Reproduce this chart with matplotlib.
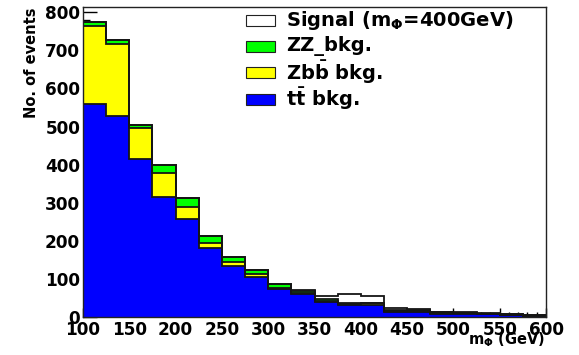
import numpy as np
import matplotlib

matplotlib.use("Agg")
import matplotlib.pyplot as plt
from matplotlib.patches import Rectangle
from matplotlib.ticker import MultipleLocator

plt.rcParams["font.family"] = "DejaVu Sans"
plt.rcParams["font.weight"] = "bold"
plt.rcParams["mathtext.fontset"] = "dejavusans"
plt.rcParams["mathtext.default"] = "bf"

# ---------------------------------------------------------------------------
# Histogram contents, 25 GeV bins from 100 to 600 GeV
# ---------------------------------------------------------------------------
bin_edges = list(range(100, 625, 25))
tt_bkg = [560, 527, 414, 315, 258, 180, 134, 106, 73, 60,
          40, 32, 32, 14, 14, 9, 9, 7, 6, 3]
zbb_bkg = [205, 191, 83, 62, 30, 15, 11, 7, 3, 2,
           2, 3, 4, 2, 1, 1, 1, 1, 0.5, 0.5]
zz_bkg = [10, 10, 7, 22, 25, 18, 13, 10, 10, 6,
          4, 2, 2, 3, 4, 2, 1, 1, 1, 1]
signal = [0, 0, 0, 0, 0, 0, 0, 0, 0, 3,
          9, 23, 18, 4, 1, 2, 2, 1, 1, 0.5]

layers = [
    (tt_bkg, "#0000ff", r"t$\bar{\mathbf{t}}$ bkg."),
    (zbb_bkg, "#ffff00", r"Zb$\bar{\mathbf{b}}$ bkg."),
    (zz_bkg, "#00ff00", "ZZ_bkg."),
    (signal, "#ffffff", r"Signal (m$_{\Phi}$=400GeV)"),
]

fig = plt.figure(figsize=(5.79, 3.55), dpi=100)
ax = fig.add_axes([83 / 579, 1 - 317 / 355, 463 / 579, 310 / 355])

edges = np.array(bin_edges, dtype=float)
bottom = np.zeros(len(tt_bkg))
for vals, color, _ in layers:
    top = bottom + np.array(vals, dtype=float)
    ax.stairs(top, edges, baseline=bottom, fill=True, facecolor=color,
              edgecolor="none", zorder=1)
    bottom = top

# outlines of each stacked component
bottom = np.zeros(len(tt_bkg))
for vals, _, _ in layers:
    top = bottom + np.array(vals, dtype=float)
    ax.stairs(top, edges, baseline=0, fill=False, edgecolor="#151515",
              linewidth=1.3, zorder=2)
    bottom = top

ax.set_xlim(100, 600)
ax.set_ylim(0, 814)
ax.set_axisbelow(True)

ax.xaxis.set_major_locator(MultipleLocator(50))
ax.xaxis.set_minor_locator(MultipleLocator(10))
ax.yaxis.set_major_locator(MultipleLocator(100))
ax.yaxis.set_minor_locator(MultipleLocator(20))
ax.tick_params(axis="x", which="major", direction="in", length=6.5,
               width=1, labelsize=12.2, pad=3)
ax.tick_params(axis="x", which="minor", direction="in", length=3.3, width=1)
ax.tick_params(axis="y", which="major", direction="in", length=10,
               width=1, labelsize=12.2, pad=2)
ax.tick_params(axis="y", which="minor", direction="in", length=5, width=1)
for lab in ax.get_xticklabels() + ax.get_yticklabels():
    lab.set_fontweight("bold")

for side in ("top", "right", "left", "bottom"):
    ax.spines[side].set_linewidth(1.0)
    ax.spines[side].set_color("#222222")
    ax.spines[side].set_zorder(3)

fig.text(31 / 579, 1 - 7 / 355, "No. of events", rotation=90,
         ha="center", va="top", fontsize=10.5, fontweight="bold")
fig.text(545 / 579, 1 - 349 / 355, r"m$_{\Phi}$ (GeV)",
         ha="right", va="bottom", fontsize=10.5, fontweight="bold")

# hand-placed legend in the upper right
row_y = [20, 46, 72.5, 99]
for (vals, color, label), yc in zip(layers[::-1], row_y):
    fig.patches.append(Rectangle((246 / 579, 1 - (yc + 5.5) / 355),
                                 29 / 579, 11 / 355, transform=fig.transFigure,
                                 facecolor=color, edgecolor="#222222",
                                 linewidth=0.8))
    fig.text(286 / 579, 1 - yc / 355, label, ha="left", va="center",
             fontsize=14, fontweight="bold")

fig.savefig("out.png", dpi=100)
